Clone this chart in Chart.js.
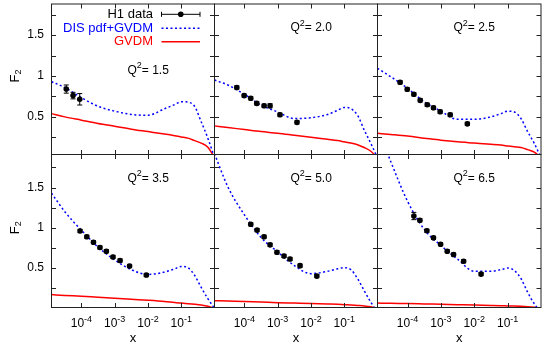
<!DOCTYPE html>
<html>
<head>
<meta charset="utf-8">
<script src="https://cdn.jsdelivr.net/npm/chart.js@4.4.0/dist/chart.umd.min.js"></script>
<style>
html, body { margin: 0; padding: 0; background: #fff; }
#wrap { position: relative; width: 545px; height: 354px; }
#wrap canvas { position: absolute; left: 0; top: 0; }
</style>
</head>
<body>
<div id="wrap"></div>
<script>
// ---- data ----
var q2Labels = ['1.5', '2.0', '2.5', '3.5', '5.0', '6.5'];

// H1 data points, one array per panel
var h1X = [
  [3.5e-5, 5.6e-5, 8.9e-5],
  [5.9e-5, 9.8e-5, 1.55e-4, 2.35e-4, 3.9e-4, 5.9e-4, 1.17e-3, 3.8e-3],
  [6.0e-5, 9.8e-5, 1.55e-4, 2.4e-4, 3.9e-4, 6.0e-4, 9.5e-4, 1.9e-3, 6.2e-3],
  [9.1e-5, 1.45e-4, 2.3e-4, 3.6e-4, 5.6e-4, 8.9e-4, 1.45e-3, 2.8e-3, 8.9e-3],
  [1.55e-4, 2.4e-4, 3.9e-4, 5.9e-4, 9.5e-4, 1.55e-3, 2.35e-3, 4.7e-3, 1.5e-2],
  [1.55e-4, 2.35e-4, 3.8e-4, 6.0e-4, 9.8e-4, 1.55e-3, 2.4e-3, 4.8e-3, 1.6e-2]
];
var h1Y = [
  [0.84, 0.76, 0.715],
  [0.86, 0.76, 0.727, 0.665, 0.636, 0.636, 0.526, 0.433],
  [0.923, 0.837, 0.776, 0.702, 0.648, 0.611, 0.563, 0.526, 0.415],
  [0.96, 0.888, 0.821, 0.755, 0.709, 0.638, 0.593, 0.525, 0.413],
  [1.043, 0.971, 0.888, 0.788, 0.696, 0.65, 0.6125, 0.53, 0.40],
  [1.146, 1.093, 0.963, 0.875, 0.796, 0.709, 0.668, 0.584, 0.425]
];
var h1Err = [
  [0.05, 0.04, 0.07],
  [0.02, 0.02, 0.02, 0.02, 0.02, 0.025, 0.02, 0.02],
  [0.02, 0.02, 0.02, 0.02, 0.02, 0.02, 0.02, 0.02, 0.02],
  [0.02, 0.02, 0.02, 0.02, 0.02, 0.02, 0.02, 0.02, 0.02],
  [0.02, 0.02, 0.02, 0.02, 0.02, 0.02, 0.02, 0.02, 0.02],
  [0.045, 0.02, 0.02, 0.02, 0.02, 0.02, 0.02, 0.02, 0.02]
];

// model curves, sampled at these x
var curveX = [1.26e-5, 3.16e-5, 1e-4, 3.16e-4, 1e-3, 3.16e-3, 1e-2, 3.16e-2, 6.31e-2, 0.1, 0.158, 0.251, 0.398, 0.631, 1];
var disGvdm = [
  [0.93, 0.86, 0.735, 0.63, 0.57, 0.53, 0.52, 0.60, 0.65, 0.685, 0.68, 0.63, 0.44, 0.24, 0.0],
  [0.95, 0.89, 0.776, 0.645, 0.56, 0.48, 0.49, 0.53, 0.58, 0.615, 0.60, 0.52, 0.34, 0.175, 0.0],
  [1.094, 0.99, 0.85, 0.685, 0.57, 0.47, 0.47, 0.50, 0.54, 0.57, 0.56, 0.48, 0.32, 0.175, 0.0],
  [1.43, 1.2, 0.97, 0.76, 0.60, 0.48, 0.42, 0.45, 0.49, 0.52, 0.505, 0.41, 0.26, 0.12, 0.0],
  [1.92, 1.51, 1.16, 0.88, 0.70, 0.53, 0.43, 0.46, 0.49, 0.505, 0.48, 0.37, 0.22, 0.075, -0.05],
  [2.25, 1.82, 1.33, 0.98, 0.78, 0.61, 0.46, 0.46, 0.48, 0.50, 0.47, 0.37, 0.2, 0.055, -0.05]
];
var gvdm = [
  [0.54, 0.50, 0.46, 0.42, 0.385, 0.35, 0.32, 0.29, 0.27, 0.255, 0.24, 0.21, 0.18, 0.13, 0.0],
  [0.39, 0.37, 0.345, 0.32, 0.30, 0.275, 0.25, 0.225, 0.21, 0.195, 0.18, 0.16, 0.125, 0.08, 0.0],
  [0.30, 0.285, 0.265, 0.24, 0.215, 0.195, 0.18, 0.165, 0.155, 0.145, 0.135, 0.125, 0.10, 0.07, 0.0],
  [0.17, 0.16, 0.15, 0.137, 0.125, 0.112, 0.10, 0.085, 0.072, 0.065, 0.058, 0.05, 0.04, 0.025, 0.0],
  [0.095, 0.09, 0.085, 0.078, 0.07, 0.065, 0.06, 0.054, 0.05, 0.045, 0.04, 0.035, 0.03, 0.02, 0.0],
  [0.065, 0.062, 0.06, 0.055, 0.05, 0.045, 0.04, 0.036, 0.033, 0.03, 0.028, 0.025, 0.02, 0.012, 0.0]
];

// axes
var xTicks = [1e-4, 1e-3, 1e-2, 1e-1];
var xTickExp = ['-4', '-3', '-2', '-1'];
var yTicks = [0.25, 0.5, 0.75, 1, 1.25, 1.5, 1.75];
var yLabelled = [0.5, 1, 1.5];
var legendNames = ['H1 data', 'DIS pdf+GVDM', 'GVDM'];

// ---- layout ----
var W = 545, H = 354;
var colEdges = [51.5, 214.5, 377.5, 541.5];
var rowEdges = [[3.5, 154.5], [154.5, 307.5]];
var yRange = [[0.04, 1.88], [0.01, 1.91]];
var YAXIS_W = 40;
var FONT = '"Liberation Sans", Arial, Helvetica, sans-serif';
var BLUE = '#0000ff', RED = '#ff0000';
var TICK = 4.5;

Chart.defaults.font.family = FONT;

function pts(xs, ys) {
  return xs.map(function (x, i) { return { x: x, y: ys[i] }; });
}

function supText(ctx, x, y, base, sup, rest, size, align) {
  // base text, raised small text, then more base text; y is middle
  ctx.font = size + 'px ' + FONT;
  var w1 = ctx.measureText(base).width;
  var w3 = ctx.measureText(rest).width;
  ctx.font = Math.round(size * 0.72) + 'px ' + FONT;
  var w2 = ctx.measureText(sup).width;
  var tot = w1 + w2 + w3;
  var x0 = align === 'center' ? x - tot / 2 : x;
  ctx.textAlign = 'left';
  ctx.textBaseline = 'middle';
  ctx.font = size + 'px ' + FONT;
  ctx.fillText(base, x0, y);
  ctx.fillText(rest, x0 + w1 + w2, y);
  ctx.font = Math.round(size * 0.72) + 'px ' + FONT;
  ctx.fillText(sup, x0 + w1, y - size * 0.38);
}

var deco = {
  id: 'deco',
  afterDatasetsDraw: function (chart) {
    var o = chart.options.plugins.deco;
    var p = o.panel, row = Math.floor(p / 3), col = p % 3;
    var ctx = chart.ctx, a = chart.chartArea;
    var xs = chart.scales.x, ys = chart.scales.y;
    ctx.save();

    // error bars
    ctx.strokeStyle = '#000';
    ctx.lineWidth = 1;
    ctx.beginPath();
    h1X[p].forEach(function (x, i) {
      var px = xs.getPixelForValue(x);
      var y1 = ys.getPixelForValue(h1Y[p][i] - h1Err[p][i]);
      var y2 = ys.getPixelForValue(h1Y[p][i] + h1Err[p][i]);
      ctx.moveTo(px, y1); ctx.lineTo(px, y2);
      ctx.moveTo(px - 2.5, y1); ctx.lineTo(px + 2.5, y1);
      ctx.moveTo(px - 2.5, y2); ctx.lineTo(px + 2.5, y2);
    });
    ctx.stroke();

    // frame and inward ticks
    ctx.strokeStyle = '#222';
    ctx.strokeRect(a.left, a.top, a.right - a.left, a.bottom - a.top);
    ctx.beginPath();
    xs.ticks.forEach(function (t) {
      var px = Math.round(xs.getPixelForValue(t.value)) + 0.5;
      ctx.moveTo(px, a.bottom); ctx.lineTo(px, a.bottom - TICK);
      ctx.moveTo(px, a.top); ctx.lineTo(px, a.top + TICK);
    });
    ys.ticks.forEach(function (t) {
      var py = Math.round(ys.getPixelForValue(t.value)) + 0.5;
      ctx.moveTo(a.left, py); ctx.lineTo(a.left + TICK, py);
      ctx.moveTo(a.right, py); ctx.lineTo(a.right - TICK, py);
    });
    ctx.stroke();

    ctx.fillStyle = '#000';
    // Q^2 label
    var qy = p === 0 ? a.top + 66.5 : a.top + 24;
    supText(ctx, a.left + 76, qy, 'Q', '2', '= ' + q2Labels[p], 12, 'left');

    // x tick labels and title on bottom row
    if (row === 1) {
      xTicks.forEach(function (v, i) {
        supText(ctx, xs.getPixelForValue(v), 324, '10', xTickExp[i], '', 12, 'center');
      });
      ctx.font = '13px ' + FONT;
      ctx.textAlign = 'center';
      ctx.textBaseline = 'middle';
      ctx.fillText('x', (a.left + a.right) / 2, 338);
    }
    // y title on first column
    if (col === 0) {
      ctx.save();
      ctx.translate(15, ys.getPixelForValue(1));
      ctx.rotate(-Math.PI / 2);
      ctx.font = '13px ' + FONT;
      var fw = ctx.measureText('F').width;
      ctx.textAlign = 'left';
      ctx.textBaseline = 'middle';
      ctx.fillText('F', -(fw + 5) / 2, 0);
      ctx.font = '9px ' + FONT;
      ctx.fillText('2', -(fw + 5) / 2 + fw, 4);
      ctx.restore();
    }

    // legend in first panel
    if (p === 0) {
      var lx = 153, sx1 = 161.5, sx2 = 200;
      var ly = [14.3, 28.3, 41.7];
      ctx.font = '13px ' + FONT;
      ctx.textAlign = 'right';
      ctx.textBaseline = 'middle';
      ctx.fillStyle = '#000';
      ctx.fillText(legendNames[0], lx, ly[0]);
      ctx.fillStyle = BLUE;
      ctx.fillText(legendNames[1], lx, ly[1]);
      ctx.fillStyle = RED;
      ctx.fillText(legendNames[2], lx, ly[2]);

      ctx.strokeStyle = '#000';
      ctx.lineWidth = 1;
      ctx.beginPath();
      ctx.moveTo(sx1, ly[0]); ctx.lineTo(sx2, ly[0]);
      ctx.moveTo(sx1, ly[0] - 2.5); ctx.lineTo(sx1, ly[0] + 2.5);
      ctx.moveTo(sx2, ly[0] - 2.5); ctx.lineTo(sx2, ly[0] + 2.5);
      ctx.stroke();
      ctx.fillStyle = '#000';
      ctx.beginPath();
      ctx.arc((sx1 + sx2) / 2, ly[0], 2.8, 0, Math.PI * 2);
      ctx.fill();

      ctx.lineWidth = 1.5;
      ctx.strokeStyle = BLUE;
      ctx.setLineDash([2, 2.5]);
      ctx.beginPath();
      ctx.moveTo(sx1, ly[1]); ctx.lineTo(sx2, ly[1]);
      ctx.stroke();
      ctx.setLineDash([]);
      ctx.strokeStyle = RED;
      ctx.beginPath();
      ctx.moveTo(sx1, ly[2]); ctx.lineTo(sx2, ly[2]);
      ctx.stroke();
    }
    ctx.restore();
  }
};

var wrap = document.getElementById('wrap');
for (var p = 0; p < 6; p++) {
  var row = Math.floor(p / 3), col = p % 3;
  var cv = document.createElement('canvas');
  cv.width = W; cv.height = H;
  wrap.appendChild(cv);
  var yw = col === 0 ? YAXIS_W : 0;

  new Chart(cv, {
    type: 'scatter',
    data: {
      datasets: [
        {
          data: pts(h1X[p], h1Y[p]),
          pointRadius: 2.8,
          pointBackgroundColor: '#000',
          pointBorderColor: '#000',
          pointBorderWidth: 0,
          showLine: false
        },
        {
          data: pts(curveX, disGvdm[p]),
          showLine: true,
          pointRadius: 0,
          borderColor: BLUE,
          borderWidth: 1.5,
          borderDash: [2, 2.5],
          cubicInterpolationMode: 'monotone'
        },
        {
          data: pts(curveX, gvdm[p]),
          showLine: true,
          pointRadius: 0,
          borderColor: RED,
          borderWidth: 1.5,
          cubicInterpolationMode: 'monotone'
        }
      ]
    },
    options: {
      responsive: false,
      animation: false,
      devicePixelRatio: 1,
      layout: {
        padding: {
          left: colEdges[col] - yw,
          right: W - colEdges[col + 1],
          top: rowEdges[row][0],
          bottom: H - rowEdges[row][1]
        }
      },
      plugins: {
        legend: { display: false },
        tooltip: { enabled: false },
        deco: { panel: p }
      },
      scales: {
        x: {
          type: 'logarithmic',
          min: 1.26e-5,
          max: 1,
          bounds: 'data',
          grid: { display: false, drawTicks: false },
          border: { display: false },
          ticks: { display: false },
          afterBuildTicks: function (s) { s.ticks = xTicks.map(function (v) { return { value: v }; }); },
          afterFit: function (s) { s.height = 0; s.paddingLeft = 0; s.paddingRight = 0; }
        },
        y: {
          type: 'linear',
          min: yRange[row][0],
          max: yRange[row][1],
          grid: { display: false, drawTicks: false },
          border: { display: false },
          ticks: {
            display: col === 0,
            padding: 7.5,
            color: '#000',
            font: { size: 12 },
            callback: function (v) { return yLabelled.indexOf(v) >= 0 ? String(v) : ''; }
          },
          afterBuildTicks: function (s) { s.ticks = yTicks.map(function (v) { return { value: v }; }); },
          afterFit: (function (w) {
            return function (s) { s.width = w; s.paddingTop = 0; s.paddingBottom = 0; };
          })(yw)
        }
      }
    },
    plugins: [deco]
  });
}
</script>
</body>
</html>
